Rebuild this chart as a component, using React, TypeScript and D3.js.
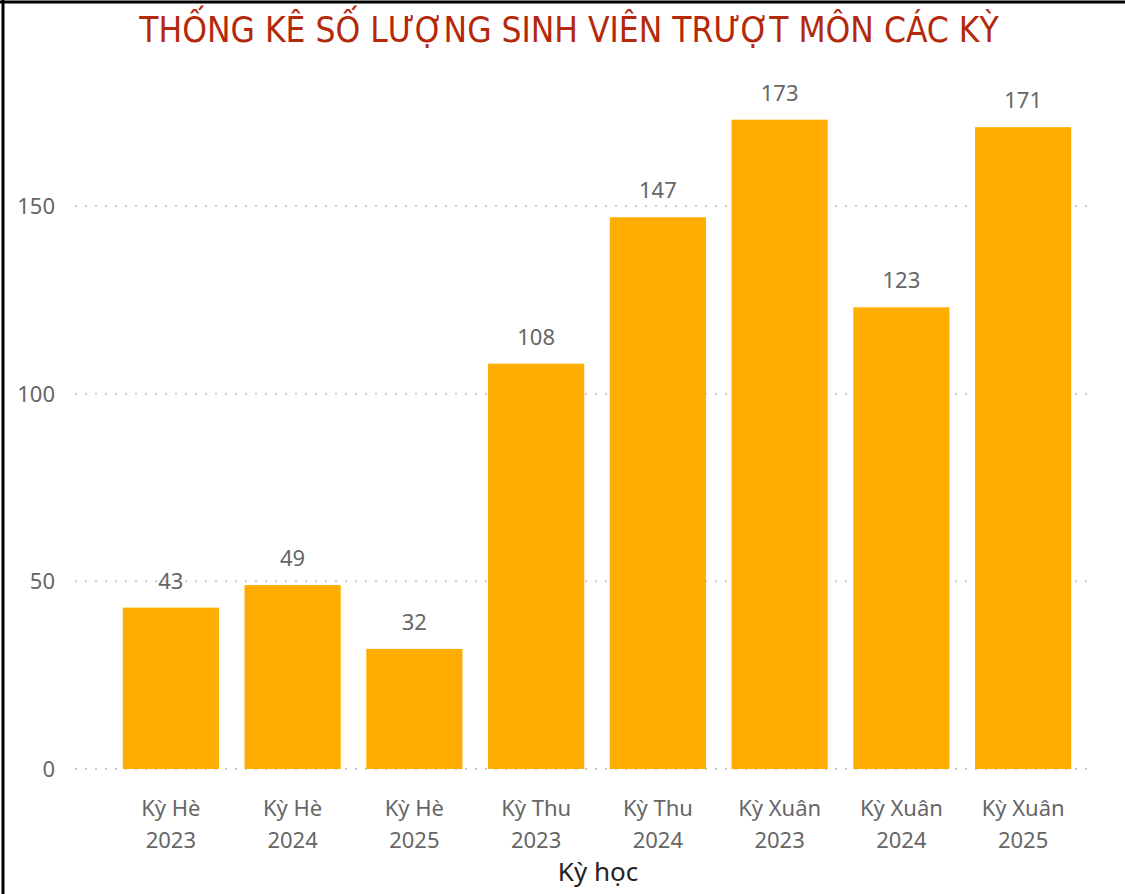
import { useMemo } from "react";
import { scaleBand, scaleLinear } from "d3";

const semesters = ["Kỳ Hè", "Kỳ Hè", "Kỳ Hè", "Kỳ Thu", "Kỳ Thu", "Kỳ Xuân", "Kỳ Xuân", "Kỳ Xuân"];
const years = ["2023", "2024", "2025", "2023", "2024", "2023", "2024", "2025"];
const failed = [43, 49, 32, 108, 147, 173, 123, 171];
const yTicks = [0, 50, 100, 150];

const width = 1125;
const height = 894;
const font = "'Segoe UI', 'Noto Sans', sans-serif";
const titleText = "THỐNG KÊ SỐ LƯỢNG SINH VIÊN TRƯỢT MÔN CÁC KỲ";

export default function App() {
  const keys = semesters.map((s, i) => s + " " + years[i]);

  const xScale = useMemo(
    () => scaleBand<string>().domain(keys).range([110, 1084]).paddingInner(0.21).paddingOuter(0.105),
    []
  );
  const yScale = useMemo(() => scaleLinear().domain([0, 150]).range([769, 206]), []);

  return (
    <svg
      width={width}
      height={height}
      style={{ position: "absolute", left: 0, top: 0, background: "#fff" }}
    >
      {/* frame */}
      <line x1={0} x2={width} y1={2} y2={2} stroke="#000" strokeWidth={3} />
      <line x1={3} x2={3} y1={0} y2={height} stroke="#000" strokeWidth={3} />

      <text
        x={569}
        y={42}
        textAnchor="middle"
        fontFamily="'DejaVu Sans Condensed', 'Liberation Sans Narrow', sans-serif"
        fontSize={35}
        fill="#B3290A"
      >
        {titleText}
      </text>

      {/* gridlines + y ticks */}
      {yTicks.map((t) => (
        <g key={t}>
          <line
            x1={75}
            x2={1090}
            y1={yScale(t)}
            y2={yScale(t)}
            stroke="#c8c8c8"
            strokeWidth={2}
            strokeDasharray="2,8"
          />
          <text
            x={55}
            y={yScale(t) + 8}
            textAnchor="end"
            fontFamily={font}
            fontSize={22}
            fill="#666"
          >
            {t}
          </text>
        </g>
      ))}

      {/* bars */}
      {keys.map((k, i) => (
        <g key={k}>
          <rect
            x={xScale(k)}
            y={yScale(failed[i])}
            width={xScale.bandwidth()}
            height={yScale(0) - yScale(failed[i])}
            fill="#FFAD00"
          />
          <text
            x={(xScale(k) ?? 0) + xScale.bandwidth() / 2}
            y={yScale(failed[i]) - 19}
            textAnchor="middle"
            fontFamily={font}
            fontSize={22}
            fill="#666"
          >
            {failed[i]}
          </text>
          <text
            x={(xScale(k) ?? 0) + xScale.bandwidth() / 2}
            y={816}
            textAnchor="middle"
            fontFamily={font}
            fontSize={22}
            fill="#666"
          >
            {semesters[i]}
          </text>
          <text
            x={(xScale(k) ?? 0) + xScale.bandwidth() / 2}
            y={848}
            textAnchor="middle"
            fontFamily={font}
            fontSize={22}
            fill="#666"
          >
            {years[i]}
          </text>
        </g>
      ))}

      <text x={598} y={881} textAnchor="middle" fontFamily={font} fontSize={26} fill="#252423">
        Kỳ học
      </text>
    </svg>
  );
}
